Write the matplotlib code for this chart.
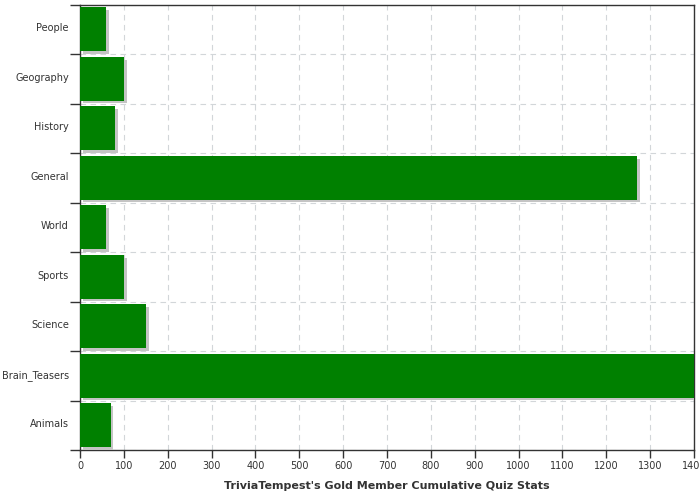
import matplotlib.pyplot as plt
import matplotlib.patheffects as pe
import numpy as np

# categories listed top to bottom, as in the chart
categories = ['People', 'Geography', 'History', 'General', 'World',
              'Sports', 'Science', 'Brain_Teasers', 'Animals']
values = [60, 100, 80, 1270, 60, 100, 150, 1400, 70]
x_ticks = list(range(0, 1401, 100))
x_label = "TriviaTempest's Gold Member Cumulative Quiz Stats"

plt.rcParams['font.family'] = 'DejaVu Sans'

fig = plt.figure(figsize=(7, 5), dpi=100)
ax = fig.add_axes([0.1143, 0.1, 0.877, 0.891])

n = len(categories)
y = np.arange(n)[::-1]  # first category on top

bars = ax.barh(y, values, height=0.88, color='#008000', zorder=3)
for b in bars:
    b.set_path_effects([pe.SimplePatchShadow(offset=(2, -2),
                                             shadow_rgbFace='#c4c4c4', alpha=1.0),
                        pe.Normal()])

ax.set_xlim(0, 1400)
ax.set_ylim(-0.5, n - 0.5)

# x ticks
ax.set_xticks(x_ticks)
ax.tick_params(axis='x', direction='out', length=6, width=1, color='#333333',
               labelsize=7, labelcolor='#333333', pad=2)

# y: labels at the centres, tick marks at the boundaries
ax.set_yticks(y + 0.04)
ax.set_yticklabels(categories)
ax.tick_params(axis='y', which='major', length=0, labelsize=7,
               labelcolor='#333333', pad=8)
ax.set_yticks(np.arange(-0.5, n, 1.0), minor=True)
ax.tick_params(axis='y', which='minor', direction='out', length=7, width=1,
               color='#333333')

ax.grid(axis='x', which='major', linestyle=(0, (5, 4)), color='#d2d6d9',
        linewidth=0.8, zorder=0)
ax.grid(axis='y', which='minor', linestyle=(0, (5, 4)), color='#d2d6d9',
        linewidth=0.8, zorder=0)
ax.grid(axis='y', which='major', visible=False)

for s in ax.spines.values():
    s.set_color('#333333')
    s.set_linewidth(1)

ax.set_xlabel(x_label, fontsize=8, fontweight='bold', color='#333333',
              labelpad=7)

fig.savefig('out.png', dpi=100)
